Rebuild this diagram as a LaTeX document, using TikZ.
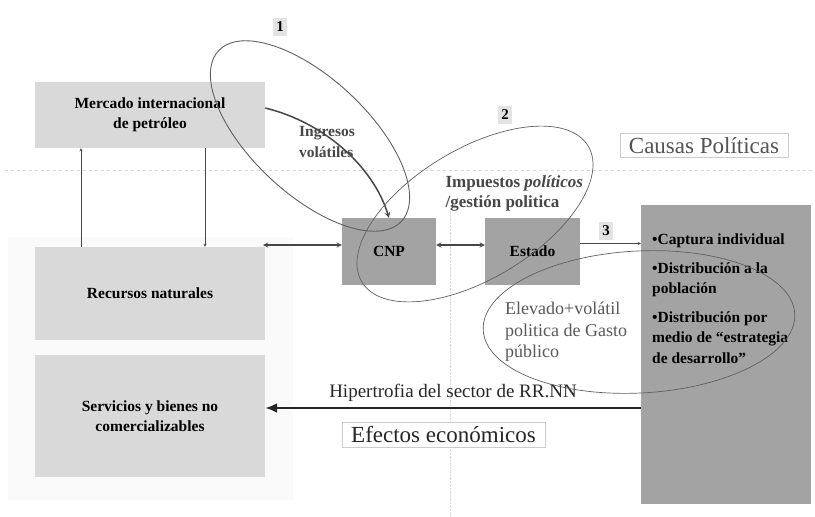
\documentclass[tikz,border=0pt]{standalone}
\usepackage{fontspec}
\setmainfont{Liberation Serif}
\usetikzlibrary{arrows.meta}
\definecolor{boxlight}{RGB}{217,217,217}
\definecolor{boxdark}{RGB}{163,163,163}
\definecolor{inkgray}{RGB}{70,70,70}

\begin{document}
\begin{tikzpicture}[x=1pt, y=-1pt, >=stealth,
    % cajas claras (columna izquierda)
    lightbox/.style={
        fill=boxlight,
        minimum width=230pt,
        align=center,
        font=\fontsize{15.5}{20}\selectfont\bfseries
    },
    % cajas oscuras (CNP, Estado, lista)
    darkbox/.style={
        fill=boxdark,
        align=center,
        font=\fontsize{15.5}{20}\selectfont\bfseries
    },
    % etiquetas numeradas
    tag/.style={fill=gray!22, inner xsep=3pt, inner ysep=4pt, font=\fontsize{15}{15}\selectfont\bfseries},
    % recuadros de titulo
    titlebox/.style={draw=gray!40, fill=white, inner xsep=9pt, inner ysep=4pt,
        font=\fontsize{23}{26}\selectfont},
    % flechas
    thin_arrow/.style={->, thin, inkgray},
    dbl_arrow/.style={<->, line width=1.3pt, inkgray},
    % elipses
    ring/.style={draw=gray!75!black, line width=0.7pt}
]
    \useasboundingbox (0,0) rectangle (815,517);

    % ================== Fondo ==================
    \fill[gray!4] (8,237) rectangle (293,500);
    \draw[gray!30, dashed] (5,170) -- (812,170);
    \draw[gray!30, densely dotted] (450,205) -- (450,517);

    % ================== Columna izquierda ==================
    \node[lightbox, minimum height=66pt] (mercado) at (150,115) {Mercado internacional\\de petróleo};
    \node[lightbox, minimum height=93pt] (recursos) at (150,293.5) {Recursos naturales};
    \node[lightbox, minimum height=122pt] (servicios) at (150,416) {Servicios y bienes no\\comercializables};

    \draw[thin_arrow] (recursos.north -| 81,0) -- (mercado.south -| 81,0);
    \draw[thin_arrow] (mercado.south -| 205,0) -- (recursos.north -| 205,0);

    % ================== Centro ==================
    \node[darkbox, minimum width=94pt, minimum height=67pt] (cnp) at (389,251.5) {CNP};
    \node[darkbox, minimum width=95pt, minimum height=67pt] (estado) at (532.5,251.5) {Estado};
    \node[darkbox, minimum width=170pt, minimum height=299pt] (lista) at (726,354.5) {};

    \coordinate (enlace) at (263,245);
    \draw[dbl_arrow] (enlace) -- ([yshift=6.5pt]cnp.west);
    \draw[dbl_arrow] ([yshift=6.5pt]cnp.east) -- ([yshift=6.5pt]estado.west);
    \draw[thin_arrow] ([yshift=8pt]estado.east) -- (lista.west |- 0,243.5);

    % textos
    \node[font=\fontsize{15.5}{21}\selectfont\bfseries, text=inkgray, align=left] (ingresos) at (327,142) {Ingresos\\volátiles};
    \node[font=\fontsize{17}{20}\selectfont\bfseries, text=inkgray, align=left, anchor=west] (impuestos) at (442,193)
        {Impuestos \textit{políticos}\\/gestión politica};
    \node[fill=white, inner sep=3pt, font=\fontsize{18}{21.5}\selectfont, text=gray!70!black, align=left, anchor=north west]
        (gasto) at (502,299) {Elevado+volátil\\politica de Gasto\\público};
    \node[font=\fontsize{15.5}{20.5}\selectfont\bfseries, align=left, anchor=north west, inner sep=0pt] (items) at (652,234)
        {•Captura individual\\[8pt]
         •Distribución a la\\población\\[8pt]
         •Distribución por\\medio de “estrategia\\de desarrollo”};

    \draw[->, line width=1.5pt, inkgray] ([yshift=7pt]mercado.east) .. controls +(58,14) and +(-16,-52) .. (cnp.north);

    % ================== Etiquetas ==================
    \node[tag] (t1) at (280,27) {1};
    \node[tag] (t2) at (505,115) {2};
    \node[tag] (t3) at (606,231) {3};

    \node[titlebox, text=gray!65!black] (causas) at (704,145.5) {Causas Políticas};
    \node[titlebox, text=black!85] (efectos) at (443.5,434.5) {Efectos económicos};

    % ================== Efectos ==================
    \draw[-{Latex[length=12pt,width=10pt]}, line width=2.6pt, black!85] ([yshift=-53.5pt]lista.west) -- ([yshift=8pt]servicios.east)
        node[pos=0.5, above=2pt, font=\fontsize{19}{20}\selectfont, text=black!85] (hiper) {Hipertrofia del sector de RR.NN};

    % ================== Elipses ==================
    \draw[ring, line width=0.9pt, rotate around={-43:(310,136)}] (310,136) ellipse [x radius=125, y radius=58];
    \draw[ring, rotate around={31:(475,214)}] (475,214) ellipse [x radius=132, y radius=65];
    \draw[ring, rotate around={3:(639,322)}] (639,322) ellipse [x radius=156, y radius=71];

\end{tikzpicture}
\end{document}
